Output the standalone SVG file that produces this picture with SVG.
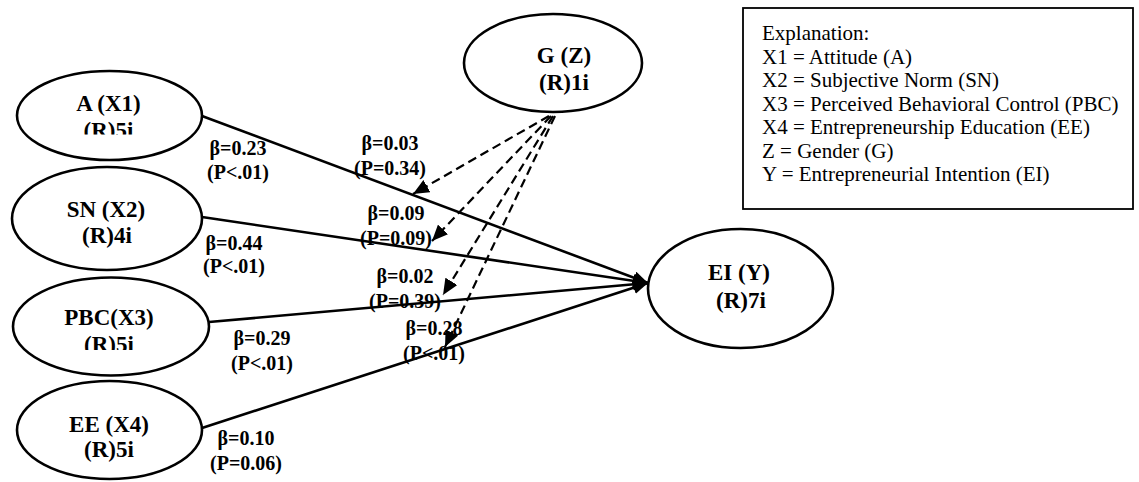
<svg xmlns="http://www.w3.org/2000/svg" width="1139" height="482" viewBox="0 0 1139 482">
  <defs>
    <style>
      .node ellipse { fill: #ffffff; stroke: #000000; stroke-width: 2.6; }
      .node text { font-weight: bold; font-size: 23px; text-anchor: middle; fill: #000000; }
      .lbl { font-weight: bold; font-size: 20px; text-anchor: middle; fill: #000000; }
      .path { stroke: #000000; stroke-width: 2.6; fill: none; marker-end: url(#solidHead); }
      .mod { stroke: #000000; stroke-width: 2.2; fill: none; stroke-dasharray: 9 5; marker-end: url(#dashHead); }
      .legend rect { fill: #ffffff; stroke: #000000; stroke-width: 1.8; }
      .legend text { font-size: 21px; fill: #000000; }
    </style>
    <marker id="solidHead" viewBox="0 0 15 13" refX="15" refY="6.5" markerWidth="15" markerHeight="13" markerUnits="userSpaceOnUse" orient="auto">
      <path d="M0,0 L15,6.5 L0,13 z" fill="#000000"/>
    </marker>
    <marker id="dashHead" viewBox="0 0 16 14" refX="16" refY="7" markerWidth="16" markerHeight="14" markerUnits="userSpaceOnUse" orient="auto">
      <path d="M0,0 L16,7 L0,14 z" fill="#000000"/>
    </marker>
    <!-- second-line labels of A and PBC are cut off by their text frames -->
    <clipPath id="clipA"><rect x="0" y="0" width="240" height="134.5"/></clipPath>
    <clipPath id="clipPBC"><rect x="0" y="280" width="240" height="70"/></clipPath>
  </defs>

  <g font-family="'Liberation Serif', Tinos, 'Times New Roman', Times, 'DejaVu Serif', serif">
  <!-- path coefficients -->
  <g id="labels">
    <text class="lbl" x="238" y="155">β=0.23</text>
    <text class="lbl" x="238" y="179">(P&lt;.01)</text>
    <text class="lbl" x="234" y="250">β=0.44</text>
    <text class="lbl" x="234" y="273">(P&lt;.01)</text>
    <text class="lbl" x="262" y="345">β=0.29</text>
    <text class="lbl" x="262" y="370">(P&lt;.01)</text>
    <text class="lbl" x="246" y="445">β=0.10</text>
    <text class="lbl" x="246" y="470">(P=0.06)</text>
    <text class="lbl" x="390" y="150">β=0.03</text>
    <text class="lbl" x="390" y="175">(P=0.34)</text>
    <text class="lbl" x="396" y="220">β=0.09</text>
    <text class="lbl" x="396" y="245">(P=0.09)</text>
    <text class="lbl" x="405" y="283">β=0.02</text>
    <text class="lbl" x="405" y="308">(P=0.39)</text>
    <text class="lbl" x="434" y="335">β=0.28</text>
    <text class="lbl" x="434" y="360">(P&lt;.01)</text>
  </g>

  <!-- connectors: direct paths into EI and moderating paths from G -->
  <g id="connectors">
    <line class="path" x1="202" y1="116" x2="648" y2="283"/>
    <line class="path" x1="202" y1="217" x2="648" y2="283"/>
    <line class="path" x1="209" y1="322" x2="648" y2="283"/>
    <line class="path" x1="202" y1="428" x2="648" y2="283"/>
    <line class="mod" x1="549" y1="116" x2="413" y2="194"/>
    <line class="mod" x1="551" y1="116" x2="432" y2="241"/>
    <line class="mod" x1="553" y1="116" x2="443" y2="295"/>
    <line class="mod" x1="555" y1="116" x2="445" y2="347"/>
  </g>

  <g id="node-A" class="node">
    <ellipse cx="109.5" cy="115.5" rx="92.5" ry="44.5"/>
    <text x="108.5" y="111">A (X1)</text>
    <text x="108.5" y="138" clip-path="url(#clipA)">(R)5i</text>
  </g>
  <g id="node-SN" class="node">
    <ellipse cx="107" cy="218.5" rx="95" ry="51.5"/>
    <text x="106" y="217">SN (X2)</text>
    <text x="107" y="243">(R)4i</text>
  </g>
  <g id="node-PBC" class="node">
    <ellipse cx="111" cy="326.5" rx="98" ry="49"/>
    <text x="109" y="325">PBC(X3)</text>
    <text x="109" y="352" clip-path="url(#clipPBC)">(R)5i</text>
  </g>
  <g id="node-EE" class="node">
    <ellipse cx="109.5" cy="430" rx="92.5" ry="49"/>
    <text x="109" y="432">EE (X4)</text>
    <text x="109" y="457">(R)5i</text>
  </g>
  <g id="node-G" class="node">
    <ellipse cx="553" cy="63" rx="89" ry="49"/>
    <text x="564" y="63">G (Z)</text>
    <text x="564" y="90">(R)1i</text>
  </g>
  <g id="node-EI" class="node">
    <ellipse cx="740.5" cy="288.5" rx="92.5" ry="59.5"/>
    <text x="739" y="280">EI (Y)</text>
    <text x="741" y="308">(R)7i</text>
  </g>

  <g id="legend" class="legend">
    <rect x="743" y="8" width="390" height="201"/>
    <text x="762" y="40">Explanation:</text>
    <text x="762" y="64">X1 = Attitude (A)</text>
    <text x="762" y="87">X2 = Subjective Norm (SN)</text>
    <text x="762" y="111">X3 = Perceived Behavioral Control (PBC)</text>
    <text x="762" y="134">X4 = Entrepreneurship Education (EE)</text>
    <text x="762" y="158">Z = Gender (G)</text>
    <text x="762" y="181">Y = Entrepreneurial Intention (EI)</text>
  </g>
  </g>
</svg>
